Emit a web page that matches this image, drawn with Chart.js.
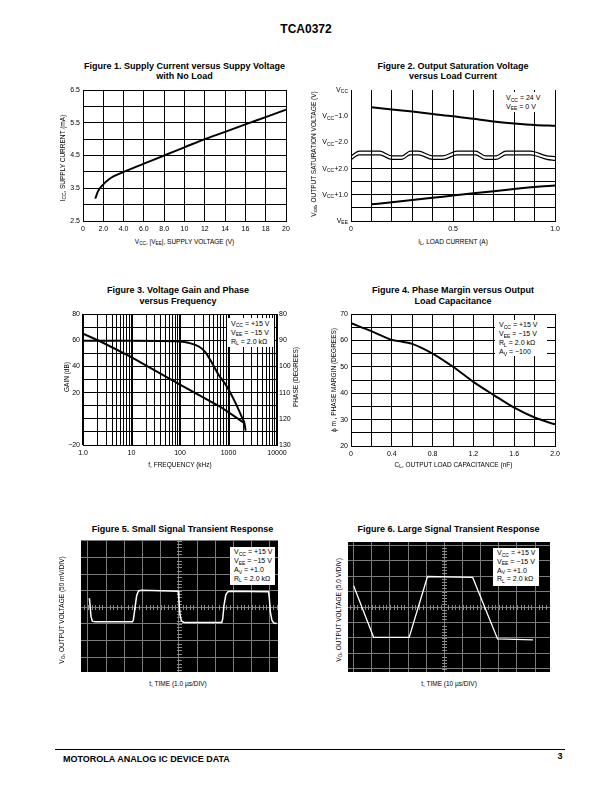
<!DOCTYPE html>
<html>
<head>
<meta charset="utf-8">
<script src="https://cdn.jsdelivr.net/npm/chart.js@4"></script>
<style>
  html, body { margin: 0; padding: 0; background: #fff; }
  body { width: 612px; height: 792px; position: relative; overflow: hidden;
         font-family: "Liberation Sans", Arial, Helvetica, sans-serif; color: #000; }
  canvas { position: absolute; }
  .t { position: absolute; white-space: nowrap; line-height: 1; }
  .t sub, .box sub { font-size: 72%; vertical-align: baseline; position: relative; top: 0.3em; line-height: 0; }
  .box { position: absolute; background: #fff; font-size: 7px; white-space: nowrap; box-sizing: border-box; padding-left: 4px; }
  .rule { position: absolute; left: 55px; width: 510px; top: 749px; border-top: 1px solid #000; }
</style>
</head>
<body>
<div class="rule"></div>
<script>
// ---- Figure 1: supply current vs supply voltage
const supplyVoltage = [1.2, 1.5, 2.0, 2.5, 3.0, 4.0, 6.0, 8.0, 10, 12, 14, 16, 18, 20];
const supplyCurrent = [3.18, 3.42, 3.62, 3.76, 3.86, 4.0, 4.25, 4.5, 4.75, 5.0, 5.22, 5.45, 5.67, 5.9];
const voltageTickLabels = ['0', '2.0', '4.0', '6.0', '8.0', '10', '12', '14', '16', '18', '20'];
const currentTickLabels = ['2.5', '', '3.5', '', '4.5', '', '5.5', '', '6.5'];

// ---- Figure 2: output saturation voltage (y in grid divisions, 2 div = 1 V)
const loadCurrent = [0.1, 0.2, 0.3, 0.4, 0.5, 0.6, 0.7, 0.8, 0.9, 1.0];
const satHigh = [8.68, 8.52, 8.35, 8.17, 8.0, 7.8, 7.6, 7.45, 7.33, 7.27];
const satLow = [1.27, 1.43, 1.6, 1.77, 1.95, 2.12, 2.28, 2.45, 2.6, 2.71];
const breakX = [0, 0.04, 0.14, 0.2, 0.25, 0.29, 0.33, 0.4, 0.45, 0.52, 0.61, 0.66, 0.71, 0.76, 0.88, 0.96, 1.0];
const breakUpper = [4.97, 5.33, 5.33, 4.97, 4.97, 5.33, 5.33, 4.97, 4.97, 5.33, 5.33, 4.97, 4.97, 5.33, 5.33, 4.97, 4.92];
const breakLower = [4.67, 5.05, 5.05, 4.7, 4.7, 5.05, 5.05, 4.7, 4.7, 5.05, 5.05, 4.7, 4.7, 5.05, 5.05, 4.7, 4.62];
const loadTickLabels = ['0', '', '', '', '', '0.5', '', '', '', '', '1.0'];
const satTickValues = [10, 8, 6, 4, 2, 0];
const satTickSub = ['CC', 'CC', 'CC', 'CC', 'CC', 'EE'];
const satTickTail = ['', '\u22121.0', '\u22122.0', '+2.0', '+1.0', ''];

// ---- Figure 3: gain and phase vs frequency (kHz)
const gainFreq = [1, 10, 100, 150, 250, 330, 420, 630, 930, 1400, 1900, 2130, 2250];
const gainDb = [59.5, 59.5, 59, 58, 55, 51, 45, 33.5, 24.5, 12, 1, -3.4, -9];
const phaseFreq = [1, 2.3, 9.5, 100, 680, 1730, 2130];
const phaseDeg = [87.5, 90.5, 96.3, 107, 115.4, 120.5, 121.7];
const freqDecades = [1, 10, 100, 1000, 10000];
const freqDecadeLabels = ['1.0', '10', '100', '1000', '10000'];
const gainTickLabels = ['\u221220', '', '', '', '20', '', '40', '', '60', '', '80'];
const phaseTickLabels = ['80', '', '90', '', '100', '', '110', '', '120', '', '130'];

// ---- Figure 4: phase margin vs load capacitance
const loadCap = [0, 0.2, 0.4, 0.5, 0.6, 0.8, 1.0, 1.2, 1.4, 1.6, 1.8, 2.0];
const phaseMargin = [66.5, 63.5, 60.2, 59.5, 58.7, 55, 50, 44.3, 39.3, 34.5, 30.8, 28.2];
const capTickLabels = ['0', '', '0.4', '', '0.8', '', '1.2', '', '1.6', '', '2.0'];
const marginTickLabels = ['20', '', '30', '', '40', '', '50', '', '60', '', '70'];

// ---- Figures 5 and 6: scope traces (x, y in screen divisions)
const smallT = [0.08, 0.12, 0.17, 0.24, 0.4, 2.45, 2.5, 2.58, 2.68, 2.78, 2.95, 4.96, 5.0, 5.06, 5.14, 5.25, 5.4,
                7.36, 7.41, 7.48, 7.58, 7.7, 7.85, 9.93, 9.97, 10.03, 10.12, 10.22, 10.38];
const smallV = [0.55, 0.1, -0.55, -0.84, -0.88, -0.88, -0.75, -0.1, 0.7, 0.98, 1.02, 0.97, 0.5, -0.45, -0.82, -0.9, -0.92,
                -0.92, -0.7, 0.1, 0.75, 0.94, 0.97, 0.93, 0.6, -0.3, -0.8, -0.95, -0.98];
const largeT = [0, 1.1, 3.06, 4.07, 6.56, 7.93, 9.89];
const largeV = [1.37, -1.96, -1.96, 1.97, 1.91, -2.06, -2.12];
const scopeCols = [0, 1, 2, 3, 4, 5, 6, 7, 8, 9, 10];
const scopeRows = [-4, -3, -2, -1, 0, 1, 2, 3, 4];

const FONT = '"Liberation Sans", Arial, Helvetica, sans-serif';
Chart.defaults.font.family = FONT;
Chart.defaults.font.size = 7;
Chart.defaults.color = '#000';

function addCanvas(plot, m) {
  const c = document.createElement('canvas');
  const w = plot[2] - plot[0] + m.yW + (m.y2W || 0) + m.padR;
  const h = plot[3] - plot[1] + m.padT + m.xH;
  c.width = w; c.height = h;
  c.style.width = w + 'px'; c.style.height = h + 'px';
  c.style.left = (plot[0] - m.yW) + 'px';
  c.style.top = (plot[1] - m.padT) + 'px';
  document.body.appendChild(c);
  return c;
}

function fixSize(size) {
  return function (scale) {
    if (scale.isHorizontal()) scale.height = size; else scale.width = size;
  };
}

// labels are looked up by value so reversed axes stay right
function gridScale(min, max, step, labels, size, pad, extra) {
  return Object.assign({
    type: 'linear', min: min, max: max,
    ticks: { stepSize: step, autoSkip: false, maxRotation: 0, padding: pad, color: '#000',
             font: { size: 7 }, callback: v => labels[Math.round((v - min) / step)] },
    grid: { color: '#000', lineWidth: 1, drawTicks: false },
    border: { color: '#000', width: 1 },
    afterFit: fixSize(size)
  }, extra || {});
}

function options(m, scales, extra) {
  return Object.assign({
    responsive: false, animation: false, devicePixelRatio: 1,
    layout: { padding: { top: m.padT, right: m.padR, left: 0, bottom: 0 } },
    plugins: { legend: { display: false }, tooltip: { enabled: false } },
    scales: scales
  }, extra || {});
}

function curve(xs, ys, opt) {
  return Object.assign({
    data: xs.map((x, i) => ({ x: x, y: ys[i] })),
    borderColor: '#000', borderWidth: 2, pointRadius: 0, fill: false,
    cubicInterpolationMode: 'monotone'
  }, opt || {});
}

const M = { yW: 25, xH: 16, padT: 8, padR: 12 };

// Figure 1
new Chart(addCanvas([83, 90, 286, 221], M), {
  type: 'line',
  data: { datasets: [curve(supplyVoltage, supplyCurrent)] },
  options: options(M, {
    x: gridScale(0, 20, 2, voltageTickLabels, M.xH, 4),
    y: gridScale(2.5, 6.5, 0.5, currentTickLabels, M.yW, 3)
  })
});

// Figure 2 (tick labels need subscripts, drawn by a small plugin)
const richY = {
  id: 'richY',
  afterDraw(chart) {
    const s = chart.scales.y, c = chart.ctx;
    c.save();
    c.fillStyle = '#000';
    c.textBaseline = 'middle';
    satTickValues.forEach((v, i) => {
      const y = s.getPixelForValue(v);
      c.font = '7px ' + FONT;
      const wb = c.measureText('V').width, wt = c.measureText(satTickTail[i]).width;
      c.font = '5px ' + FONT;
      const ws = c.measureText(satTickSub[i]).width;
      let x = chart.chartArea.left - 3 - (wb + ws + wt);
      c.font = '7px ' + FONT; c.fillText('V', x, y); x += wb;
      c.font = '5px ' + FONT; c.fillText(satTickSub[i], x, y + 2); x += ws;
      c.font = '7px ' + FONT; c.fillText(satTickTail[i], x, y);
    });
    c.restore();
  }
};
const M2 = { yW: 36, xH: 16, padT: 8, padR: 12 };
new Chart(addCanvas([351, 90, 555, 221], M2), {
  type: 'line',
  data: { datasets: [
    curve(loadCurrent, satHigh),
    curve(loadCurrent, satLow),
    curve(breakX, breakUpper, { borderWidth: 1.2 }),
    curve(breakX, breakLower, { borderWidth: 1.2 })
  ] },
  options: options(M2, {
    x: gridScale(0, 1, 0.1, loadTickLabels, M2.xH, 4),
    y: gridScale(0, 10, 1, satTickValues.map(() => ''), M2.yW, 3, {
      grid: { drawTicks: false, lineWidth: 1,
              color: ctx => (ctx.tick && ctx.tick.value === 5) ? 'rgba(0,0,0,0)' : '#000' }
    })
  }),
  plugins: [richY]
});

// Figure 3
const M3 = { yW: 25, y2W: 20, xH: 16, padT: 8, padR: 0 };
const logTicks = [];
freqDecades.forEach((d, k) => {
  if (k === freqDecades.length - 1) { logTicks.push(d); return; }
  for (let j = 1; j < 10; j++) logTicks.push(d * j);
});
new Chart(addCanvas([83, 314, 277, 445], M3), {
  type: 'line',
  data: { datasets: [
    curve(gainFreq, gainDb, { yAxisID: 'y' }),
    curve(phaseFreq, phaseDeg, { yAxisID: 'y2', cubicInterpolationMode: 'default', tension: 0 })
  ] },
  options: options(M3, {
    x: {
      type: 'logarithmic', min: 1, max: 10000,
      afterBuildTicks: s => { s.ticks = logTicks.map(v => ({ value: v })); },
      ticks: { autoSkip: false, maxRotation: 0, padding: 4, color: '#000', font: { size: 7 },
               callback: v => { const k = freqDecades.indexOf(v); return k >= 0 ? freqDecadeLabels[k] : ''; } },
      grid: { color: '#000', drawTicks: false,
              lineWidth: ctx => (ctx.tick && freqDecades.includes(ctx.tick.value)) ? 2 : 1 },
      border: { color: '#000', width: 1 },
      afterFit: fixSize(M3.xH)
    },
    y: gridScale(-20, 80, 10, gainTickLabels, M3.yW, 3),
    y2: gridScale(80, 130, 5, phaseTickLabels, M3.y2W, 2, {
      position: 'right', reverse: true,
      grid: { display: false, drawTicks: false }
    })
  })
});

// Figure 4
new Chart(addCanvas([351, 314, 555, 446], M), {
  type: 'line',
  data: { datasets: [curve(loadCap, phaseMargin)] },
  options: options(M, {
    x: gridScale(0, 2, 0.2, capTickLabels, M.xH, 4),
    y: gridScale(20, 70, 5, marginTickLabels, M.yW, 3)
  })
});

// Figures 5 and 6: oscilloscope screens
const scopePlugin = {
  id: 'scope',
  beforeDraw(chart) {
    const a = chart.chartArea, c = chart.ctx;
    c.save(); c.fillStyle = '#000';
    c.fillRect(a.left, a.top, a.right - a.left, a.bottom - a.top);
    c.restore();
  },
  beforeDatasetsDraw(chart) {
    const x = chart.scales.x, y = chart.scales.y, c = chart.ctx;
    const cx = Math.round(x.getPixelForValue(5)) + 0.5, cy = Math.round(y.getPixelForValue(0)) + 0.5;
    c.save(); c.strokeStyle = '#8a8a8a'; c.lineWidth = 1; c.beginPath();
    for (let v = Math.ceil(x.min * 5) / 5; v <= x.max; v += 0.2) {
      const px = Math.round(x.getPixelForValue(v)) + 0.5;
      c.moveTo(px, cy - 2.5); c.lineTo(px, cy + 2.5);
    }
    for (let v = Math.ceil(y.min * 5) / 5; v <= y.max; v += 0.2) {
      const py = Math.round(y.getPixelForValue(v)) + 0.5;
      c.moveTo(cx - 2.5, py); c.lineTo(cx + 2.5, py);
    }
    c.stroke(); c.restore();
  }
};
function scopeScale(min, max, ticks) {
  return {
    type: 'linear', min: min, max: max,
    afterBuildTicks: s => { s.ticks = ticks.filter(v => v >= min && v <= max).map(v => ({ value: v })); },
    ticks: { display: false },
    grid: { color: '#7c7c7c', lineWidth: 1, drawTicks: false },
    border: { display: false },
    afterFit: fixSize(0)
  };
}
const MS = { yW: 0, xH: 0, padT: 0, padR: 0 };
new Chart(addCanvas([81, 540, 278, 672], MS), {
  type: 'line',
  data: { datasets: [curve(smallT, smallV, { borderColor: '#fff', borderWidth: 1.5, cubicInterpolationMode: 'default', tension: 0 })] },
  options: options(MS, { x: scopeScale(-0.38, 10.45, scopeCols), y: scopeScale(-3.9, 4.05, scopeRows) }),
  plugins: [scopePlugin]
});
new Chart(addCanvas([348, 542, 550, 672], MS), {
  type: 'line',
  data: { datasets: [curve(largeT, largeV, { borderColor: '#fff', borderWidth: 1.3, cubicInterpolationMode: 'default', tension: 0 })] },
  options: options(MS, { x: scopeScale(-0.31, 10.82, scopeCols), y: scopeScale(-4.2, 4.2, scopeRows) }),
  plugins: [scopePlugin]
});

// ---- text
function txt(html, x, y, size, o) {
  o = o || {};
  const d = document.createElement('div');
  d.className = 't';
  d.innerHTML = html;
  d.style.fontSize = size + 'px';
  if (o.bold) d.style.fontWeight = 'bold';
  d.style.left = x + 'px';
  d.style.top = y + 'px';
  const tx = o.left ? '0' : '-50%';
  d.style.transform = 'translate(' + tx + ',-50%)' + (o.rot ? ' rotate(-90deg)' : '');
  document.body.appendChild(d);
}
function box(lines, left, top, w, h, lh, padTop) {
  const d = document.createElement('div');
  d.className = 'box';
  d.style.left = left + 'px'; d.style.top = top + 'px';
  d.style.width = w + 'px'; d.style.height = h + 'px';
  d.style.lineHeight = lh + 'px'; d.style.paddingTop = padTop + 'px';
  d.innerHTML = lines.join('<br>');
  document.body.appendChild(d);
}

const B = { bold: true };
txt('TCA0372', 306, 29, 12, B);
txt('Figure 1. Supply Current versus Suppy Voltage', 184.5, 65.5, 9, B);
txt('with No Load', 184.5, 76, 9, B);
txt('Figure 2. Output Saturation Voltage', 453, 65.5, 9, B);
txt('versus Load Current', 453, 76, 9, B);
txt('Figure 3. Voltage Gain and Phase', 178, 290, 9, B);
txt('versus Frequency', 178, 300.5, 9, B);
txt('Figure 4. Phase Margin versus Output', 453, 290, 9, B);
txt('Load Capacitance', 453, 300.5, 9, B);
txt('Figure 5. Small Signal Transient Response', 182.5, 528.5, 9, B);
txt('Figure 6. Large Signal Transient Response', 448.5, 528.5, 9, B);

const R = { rot: true };
txt('V<sub>CC</sub>, |V<sub>EE</sub>|, SUPPLY VOLTAGE (V)', 184.5, 242, 6.5);
txt('I<sub>CC</sub>, SUPPLY CURRENT (mA)', 62.5, 158, 6.5, R);
txt('I<sub>L</sub>, LOAD CURRENT (A)', 453, 242, 6.5);
txt('V<sub>sat</sub>, OUTPUT SATURATION VOLTAGE (V)', 313.5, 154, 6.5, R);
txt('f, FREQUENCY (kHz)', 180, 465, 6.5);
txt('GAIN (dB)', 66.5, 377, 6.5, R);
txt('PHASE (DEGREES)', 296, 377, 6.5, R);
txt('C<sub>L</sub>, OUTPUT LOAD CAPACITANCE (nF)', 453.5, 465, 6.5);
txt('\u03d5 m , PHASE MARGIN (DEGREES)', 333.5, 380, 6.5, R);
txt('t, TIME (1.0 \u00b5s/DIV)', 178, 684, 6.5);
txt('V<sub>O</sub>, OUTPUT VOLTAGE (50 mV/DIV)', 61.5, 610, 6.5, R);
txt('t, TIME (10 \u00b5s/DIV)', 449, 684, 6.5);
txt('V<sub>O</sub>, OUTPUT VOLTAGE (5.0 V/DIV)', 338.5, 610, 6.5, R);

txt('MOTOROLA ANALOG IC DEVICE DATA', 63, 759, 9, { bold: true, left: true });
txt('3', 560, 756, 9, B);

const cond15 = ['V<sub>CC</sub> = +15 V', 'V<sub>EE</sub> = \u221215 V'];
box(['V<sub>CC</sub> = 24 V', 'V<sub>EE</sub> = 0 V'], 502, 92, 45, 20, 8.5, 2);
box(cond15.concat(['R<sub>L</sub> = 2.0 k\u03a9']), 227, 318, 47, 29, 9, 0.5);
box(cond15.concat(['R<sub>L</sub> = 2.0 k\u03a9', 'A<sub>V</sub> = \u2212100']), 495, 320, 52, 36, 9, 0);
box(cond15.concat(['A<sub>V</sub> = +1.0', 'R<sub>L</sub> = 2.0 k\u03a9']), 230, 547, 45, 38, 8.9, 1.2);
box(cond15.concat(['A<sub>V</sub> = +1.0', 'R<sub>L</sub> = 2.0 k\u03a9']), 493, 548, 46, 38, 8.7, 1.2);
</script>
</body>
</html>
